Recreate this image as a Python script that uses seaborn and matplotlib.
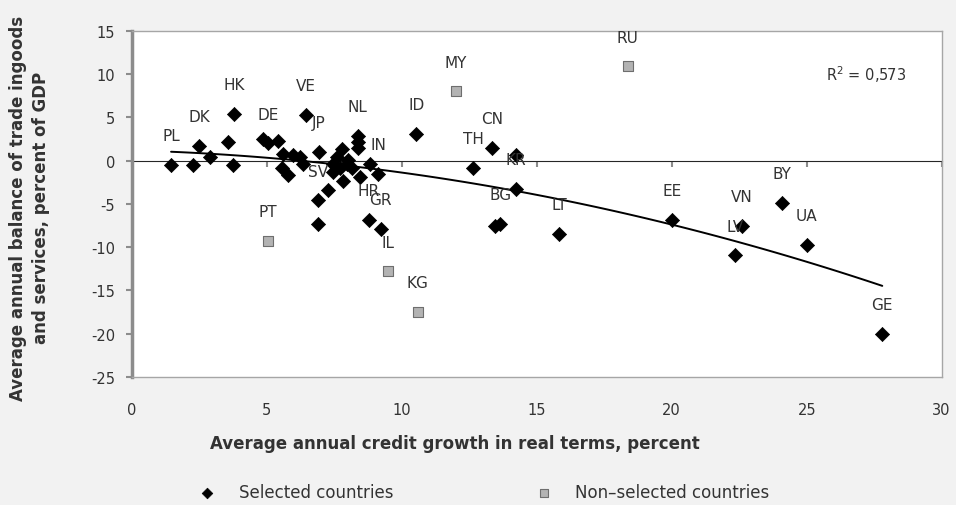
import numpy as np
import pandas as pd
import matplotlib
matplotlib.use("Agg")
import matplotlib.pyplot as plt
import seaborn as sns

# selected countries (diamonds)
sel_x = [1.45, 2.27, 2.5, 2.9, 3.57, 3.79, 3.73, 4.86, 5.05, 5.42, 5.6, 5.97,
         6.22, 6.35, 5.55, 5.78, 6.44, 6.92, 6.9, 7.25, 6.9, 7.8, 7.58, 7.46,
         7.95, 8.14, 7.46, 7.83, 8.44, 8.36, 8.36, 8.36, 8.81, 9.12, 8.78, 9.21,
         10.54, 13.34, 12.64, 14.22, 14.22, 13.45, 13.65, 15.83, 20.0, 22.6,
         22.33, 24.1, 25.0, 27.8, 8.0, 7.7]
sel_y = [-0.5, -0.5, 1.7, 0.45, 2.2, 5.4, -0.5, 2.5, 2.0, 2.3, 0.75, 0.6,
         0.4, -0.35, -0.9, -1.7, 5.27, 1.05, -4.6, -3.4, -7.3, 1.35, 0.4, -0.4,
         -0.4, -0.8, -1.35, -2.3, -1.9, 2.9, 2.2, 1.5, -0.4, -1.55, -6.8, -7.9,
         3.1, 1.45, -0.85, 0.65, -3.27, -7.6, -7.3, -8.45, -6.8, -7.55,
         -10.95, -4.85, -9.7, -20.0, 0.1, -0.9]
sel_lab = ["PL", "", "DK", "", "", "HK", "", "", "DE", "", "", "",
           "", "", "", "", "VE", "JP", "SV", "", "", "", "", "",
           "", "", "", "", "", "NL", "", "", "", "IN", "HR", "GR",
           "ID", "CN", "TH", "", "KR", "", "BG", "LT", "EE", "VN",
           "LV", "BY", "UA", "GE", "", ""]

# non-selected countries (squares)
non_x = [5.03, 9.48, 10.59, 11.99, 18.37]
non_y = [-9.3, -12.8, -17.5, 8.0, 10.9]
non_lab = ["PT", "IL", "KG", "MY", "RU"]

r2_text = "R$^2$ = 0,573"

sel = pd.DataFrame({"x": sel_x, "y": sel_y, "label": sel_lab})
non = pd.DataFrame({"x": non_x, "y": non_y, "label": non_lab})

sns.set_style("white")
plt.rcParams["font.family"] = ["DejaVu Sans"]
plt.rcParams["axes.unicode_minus"] = False
grey_txt = "#333333"

fig, ax = plt.subplots(figsize=(9.56, 5.06), dpi=100)
fig.patch.set_facecolor("#f2f2f2")
fig.subplots_adjust(left=0.138, right=0.985, top=0.937, bottom=0.253)

# trend line (2nd order polynomial on the selected countries)
sns.regplot(data=sel, x="x", y="y", order=2, ci=None, scatter=False, truncate=True,
            color="black", line_kws={"linewidth": 1.4, "zorder": 2}, ax=ax)

sns.scatterplot(data=sel, x="x", y="y", marker="D", color="black", edgecolor="black",
                linewidth=0.5, s=52, zorder=3, label="Selected countries", ax=ax)
sns.scatterplot(data=non, x="x", y="y", marker="s", color="#b3b3b3", edgecolor="#6e6e6e",
                linewidth=0.8, s=60, zorder=3, label="Non\u2013selected countries", ax=ax)

for d in (sel, non):
    for _, r in d.iterrows():
        if r["label"]:
            ax.annotate(r["label"], (r["x"], r["y"]), xytext=(0, 21), textcoords="offset points",
                        ha="center", va="center", fontsize=11, color=grey_txt)

ax.text(0.857, 0.876, r2_text, transform=ax.transAxes, ha="left", va="center",
        fontsize=10.5, color=grey_txt)

ax.set_xlim(0, 30)
ax.set_ylim(-25, 15)
ax.set_xticks(range(0, 31, 5))
ax.set_yticks(range(-25, 16, 5))
ax.tick_params(axis="x", length=0, pad=18, labelsize=10.5, labelcolor=grey_txt)
ax.tick_params(axis="y", length=4, width=1.5, color="#8c8c8c", direction="out",
               labelsize=10.5, labelcolor=grey_txt, pad=8, left=True)

# zero line with tick marks, as in the original
sec = ax.secondary_xaxis(25 / 40)
sec.set_xticks(range(0, 31, 5))
sec.tick_params(length=4, width=1.5, color="#8c8c8c", direction="out", labelbottom=False,
                labeltop=False, bottom=True, top=False)
sec.spines["bottom"].set_color("#8c8c8c")
sec.spines["bottom"].set_linewidth(2)

for side in ["top", "right", "bottom"]:
    ax.spines[side].set_color("#a6a6a6")
    ax.spines[side].set_linewidth(1)
ax.spines["left"].set_color("#8c8c8c")
ax.spines["left"].set_linewidth(2.5)

ax.set_xlabel("Average annual credit growth in real terms, percent", fontsize=12,
              fontweight="bold", color=grey_txt)
ax.xaxis.set_label_coords(0.399, -0.166)
ax.set_ylabel("Average annual balance of trade ingoods\nand services, percent of GDP",
              fontsize=12, fontweight="bold", color=grey_txt, linespacing=1.35)
ax.yaxis.set_label_coords(-0.101, 0.49)

sns.move_legend(ax, "center", bbox_to_anchor=(0.43, -0.332), ncol=2, title=None,
                frameon=False, fontsize=12, columnspacing=8, handletextpad=0.9,
                labelcolor=grey_txt, markerscale=0.75)

fig.savefig("out.png", dpi=100, facecolor=fig.get_facecolor())
